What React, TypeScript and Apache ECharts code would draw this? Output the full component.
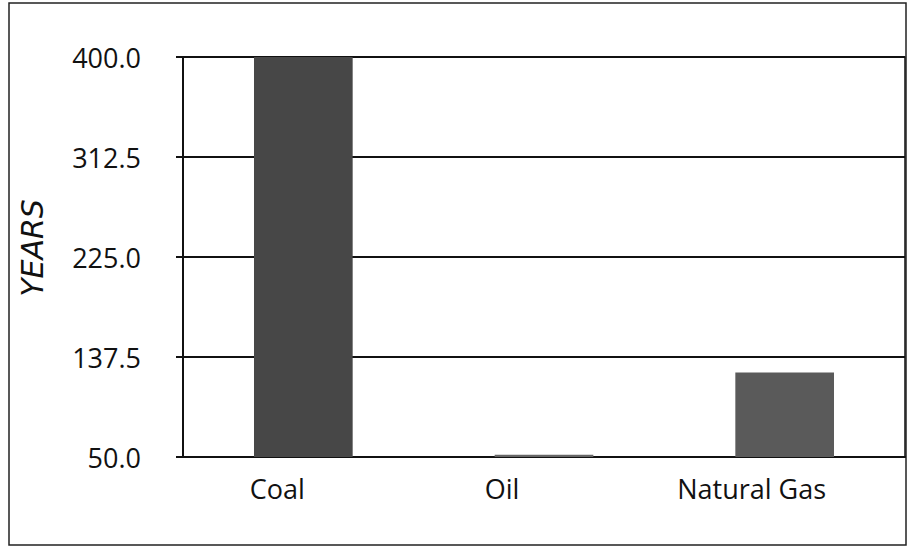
import React, { useEffect, useRef } from "react";
import * as echarts from "echarts";

const categories = ["Coal", "Oil", "Natural Gas"];
const yearsValues = [400, 52, 124];
const axisMin = 50;
const axisMax = 400;
const tickStep = 87.5;
const labelShift = [26, 42, 33];

export default function App() {
  const ref = useRef<HTMLDivElement>(null);
  useEffect(() => {
    if (!ref.current) return;
    const chart = echarts.init(ref.current, null, { renderer: "svg" });
    chart.setOption({
      animation: false,
      backgroundColor: "#ffffff",
      grid: {
        left: 183,
        right: 5,
        top: 57,
        bottom: 97,
        show: true,
        borderColor: "#111",
        borderWidth: 1.5,
      },
      xAxis: {
        type: "category",
        data: categories.map((c, i) => ({
          value: c,
          textStyle: { padding: [0, labelShift[i] * 2, 0, 0] },
        })),
        axisLine: { lineStyle: { color: "#111", width: 2 } },
        axisTick: { show: false },
        axisLabel: {
          color: "#111",
          fontSize: 27,
          fontFamily: "Open Sans",
          margin: 18,
        },
      },
      yAxis: {
        type: "value",
        min: 0,
        max: axisMax - axisMin,
        interval: tickStep,
        axisLine: { show: true, lineStyle: { color: "#111", width: 2 } },
        axisTick: { show: true, length: 7, lineStyle: { color: "#111", width: 2 } },
        axisLabel: {
          color: "#111",
          fontSize: 27,
          fontFamily: "Open Sans",
          margin: 42,
          formatter: (v: number) => (v + axisMin).toFixed(1),
        },
        splitLine: { lineStyle: { color: "#111", width: 2 } },
      },
      series: [
        {
          type: "bar",
          barWidth: "41%",
          data: yearsValues.map((v, i) => ({
            value: v - axisMin,
            itemStyle: { color: i === 0 ? "#474747" : i === 1 ? "#666" : "#5a5a5a" },
          })),
        },
      ],
      graphic: [
        {
          type: "rect",
          shape: { x: 9, y: 3, width: 897, height: 542 },
          style: { fill: "none", stroke: "#222", lineWidth: 1.5 },
          silent: true,
        },
        {
          type: "text",
          x: 32,
          y: 248,
          rotation: Math.PI / 2,
          style: {
            text: "YEARS",
            fontSize: 30,
            fontStyle: "italic",
            fontFamily: "DejaVu Sans",
            fill: "#111",
            align: "center",
            verticalAlign: "middle",
          },
        },
      ],
    });
    return () => chart.dispose();
  }, []);
  return (
    <div
      ref={ref}
      style={{ position: "fixed", left: 0, top: 0, width: 910, height: 554 }}
    />
  );
}
